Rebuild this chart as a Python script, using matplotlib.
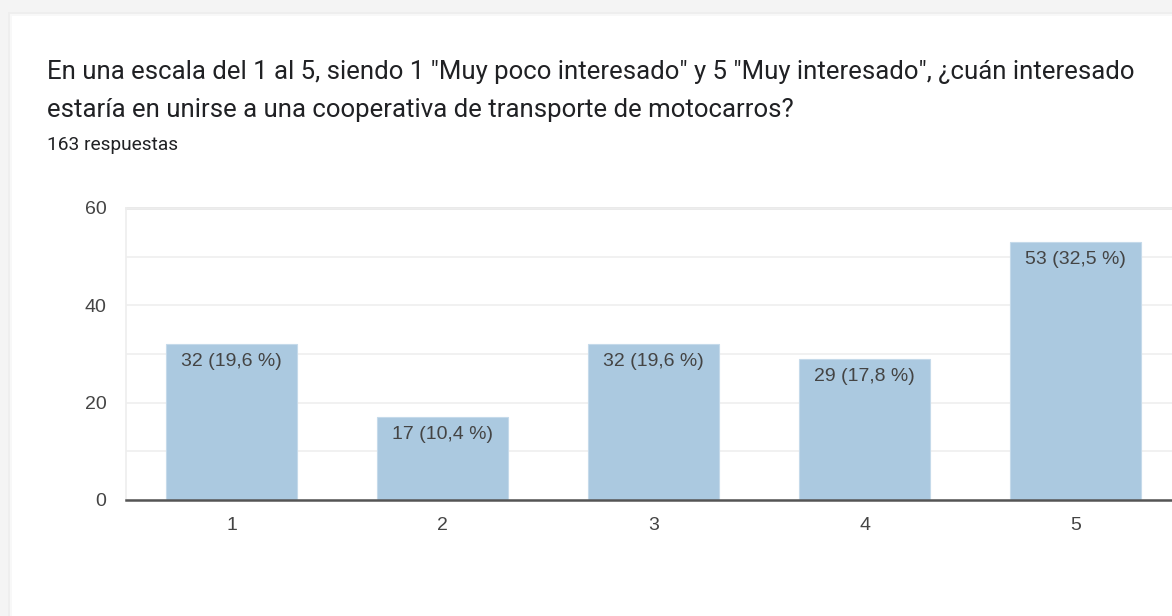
import matplotlib.pyplot as plt
from matplotlib.patches import Rectangle

plt.rcParams['font.family'] = ['Roboto', 'DejaVu Sans']

# datos
categorias = ["1", "2", "3", "4", "5"]
respuestas = [32, 17, 32, 29, 53]
porcentajes = ["19,6", "10,4", "19,6", "17,8", "32,5"]
total = 163
titulo = ['En una escala del 1 al 5, siendo 1 "Muy poco interesado" y 5 "Muy interesado", ¿cuán interesado',
          'estaría en unirse a una cooperativa de transporte de motocarros?']

W, H = 1172, 616
fig = plt.figure(figsize=(W / 100, H / 100), dpi=100)
fig.patch.set_facecolor("#f4f4f4")

# tarjeta blanca con sombra suave
fig.patches.append(Rectangle((8 / W, 0), 1, 1 - 12 / H, transform=fig.transFigure,
                             facecolor="#eeeeee", edgecolor="none", zorder=-10))
fig.patches.append(Rectangle((10 / W, 0), 1, 1 - 14 / H, transform=fig.transFigure,
                             facecolor="#f8f8f8", edgecolor="none", zorder=-9))
fig.patches.append(Rectangle((12 / W, 0), 1, 1 - 16 / H, transform=fig.transFigure,
                             facecolor="white", edgecolor="none", zorder=-8))

for i, linea in enumerate(titulo):
    fig.text(47 / W, 1 - (72 + 38 * i) / H, linea, fontsize=18.5, color="#202124",
             va="center", ha="left")
fig.text(47 / W, 1 - 145 / H, f"{total} respuestas", fontsize=13.8, color="#202124",
         va="center", ha="left")

# eje: x de 0.5 a 5.5, se corta por la derecha
left, bottom = 126, 500
top = 208
spacing = 211
ax = fig.add_axes([left / W, 1 - bottom / H, 5 * spacing / W, (bottom - top) / H])
ax.set_facecolor("none")

chart_font = ["Liberation Sans", "DejaVu Sans"]
x = list(range(1, len(categorias) + 1))
bars = ax.bar(x, respuestas, width=0.62, color="#abc9e0", edgecolor="#c5daea",
              linewidth=0.8, zorder=2)
for xi, v, p in zip(x, respuestas, porcentajes):
    ax.annotate(f"{v} ({p} %)", (xi, v), xytext=(0, -6.5), textcoords="offset points",
                ha="center", va="top", fontsize=14, color="#444444", zorder=3,
                family=chart_font)

ax.set_xlim(0.5, 5.5)
ax.set_ylim(0, 60)
ax.set_yticks([0, 20, 40, 60])
ax.set_yticks([10, 30, 50], minor=True)
ax.set_xticks(x)
ax.set_xticklabels(categorias)
ax.grid(axis="y", which="both", color="#efefef", linewidth=1.2, zorder=0)
ax.axhline(60, color="#e8e8e8", linewidth=2, zorder=1, clip_on=False)
ax.tick_params(length=0, labelsize=14, colors="#444444")
ax.tick_params(axis="y", pad=14)
ax.tick_params(axis="x", pad=12)
ax.tick_params(which="minor", length=0)
for lab in ax.get_xticklabels() + ax.get_yticklabels():
    lab.set_family(chart_font)
for s in ["top", "right"]:
    ax.spines[s].set_visible(False)
ax.spines["left"].set_color("#eeeeee")
ax.spines["left"].set_linewidth(1.2)
ax.spines["bottom"].set_color("#555555")
ax.spines["bottom"].set_linewidth(1.8)
ax.spines["bottom"].set_zorder(4)

fig.savefig("out.png", dpi=100)
